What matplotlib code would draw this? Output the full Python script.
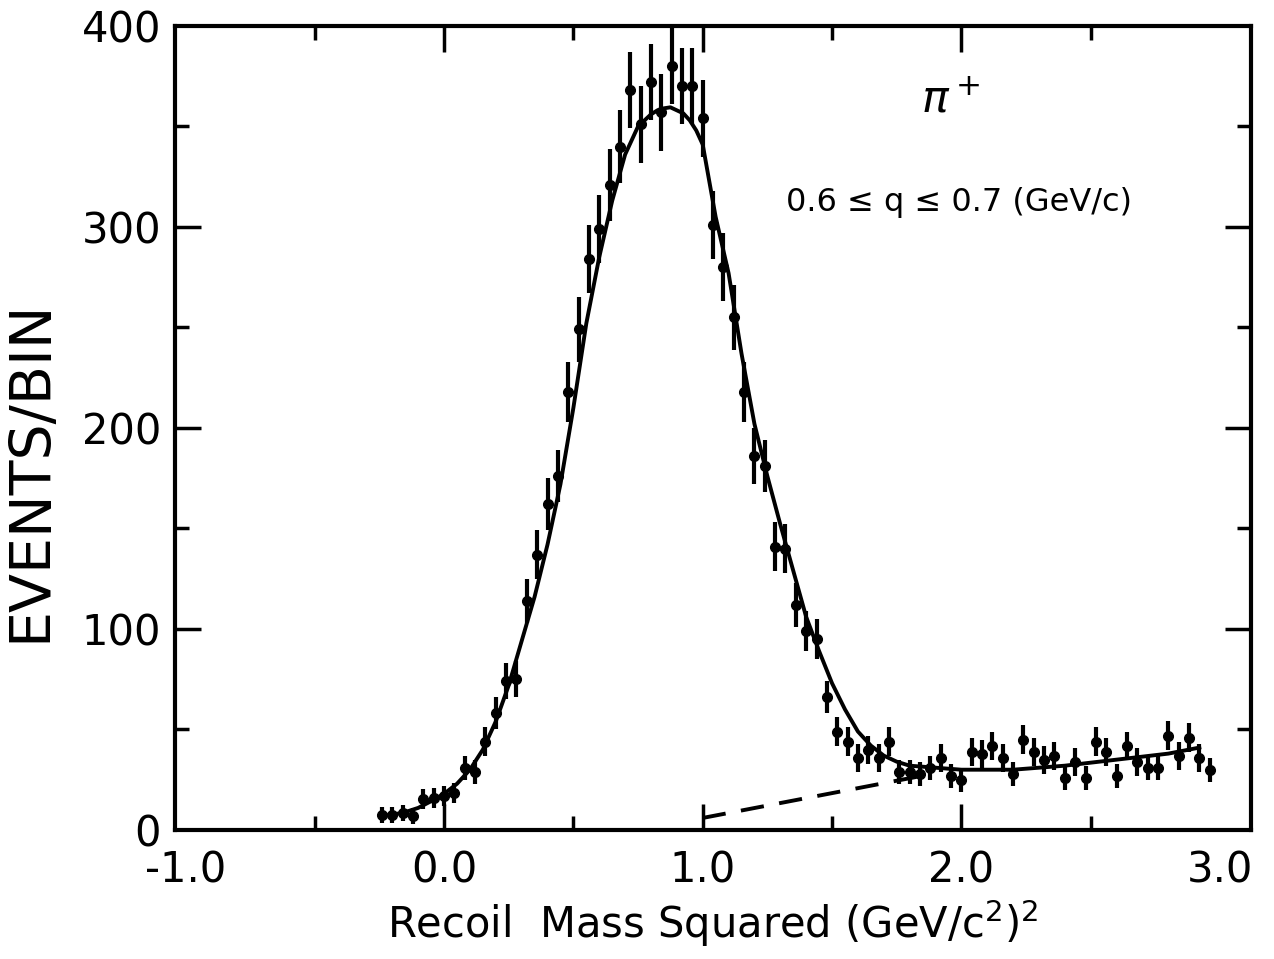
import matplotlib
matplotlib.use("Agg")
import matplotlib.pyplot as plt
from matplotlib.ticker import MultipleLocator

# ---- data ----
bin_x = [-0.24, -0.20, -0.16, -0.12, -0.08, -0.04, 0.00, 0.04, 0.08, 0.12,
         0.16, 0.20, 0.24, 0.28, 0.32, 0.36, 0.40, 0.44, 0.48, 0.52,
         0.56, 0.60, 0.64, 0.68, 0.72, 0.76, 0.80, 0.84, 0.88, 0.92,
         0.96, 1.00, 1.04, 1.08, 1.12, 1.16, 1.20, 1.24, 1.28, 1.32,
         1.36, 1.40, 1.44, 1.48, 1.52, 1.56, 1.60, 1.64, 1.68, 1.72,
         1.76, 1.80, 1.84, 1.88, 1.92, 1.96, 2.00, 2.04, 2.08, 2.12,
         2.16, 2.20, 2.24, 2.28, 2.32, 2.36, 2.40, 2.44, 2.48, 2.52,
         2.56, 2.60, 2.64, 2.68, 2.72, 2.76, 2.80, 2.84, 2.88, 2.92, 2.96]
events = [7.5, 7.5, 8.5, 7, 15.5, 16, 17, 18.5, 31, 29,
          44, 58, 74, 75, 114, 137, 162, 176, 218, 249,
          284, 299, 321, 340, 368, 351, 372, 357, 380, 370,
          370, 354, 301, 280, 255, 218, 186, 181, 141, 140,
          112, 99, 95, 66, 49, 44, 36, 40, 36, 44,
          29, 29, 28, 31, 36, 27, 25, 39, 38, 42,
          36, 28, 45, 39, 35, 37, 26, 34, 26, 44,
          39, 27, 42, 34, 31, 31, 47, 37, 46, 36, 30]
errors = [4, 4, 4, 4, 5, 5, 5, 5, 6, 6,
          7, 8, 9, 9, 11, 12, 13, 13, 15, 16,
          17, 17, 18, 18, 19, 19, 19, 19, 19, 19,
          19, 19, 17, 17, 16, 15, 14, 13, 12, 12,
          11, 10, 10, 8, 7, 7, 7, 7, 7, 7,
          6, 6, 6, 6, 7, 6, 6, 7, 7, 7,
          7, 6, 7, 7, 7, 7, 6, 7, 6, 7,
          7, 6, 7, 7, 6, 6, 7, 7, 7, 7, 6]

fit_x = [-0.24, -0.16, -0.10, -0.04, 0.00, 0.05, 0.10, 0.15, 0.20, 0.25,
         0.30, 0.35, 0.40, 0.45, 0.50, 0.55, 0.60, 0.65, 0.70, 0.75,
         0.80, 0.825, 0.85, 0.875, 0.90, 0.925, 0.95, 0.975, 1.00, 1.05,
         1.10, 1.15, 1.20, 1.25, 1.30, 1.35, 1.40, 1.45, 1.50, 1.55,
         1.60, 1.65, 1.70, 1.75, 1.80, 1.90, 2.00, 2.20, 2.40, 2.60,
         2.80, 2.92]
fit_y = [7, 8.5, 11, 15, 18, 23, 30, 40, 54, 72,
         94, 116, 142, 172, 210, 252, 285, 313, 336, 350,
         356, 358, 359, 359.5, 358, 356.5, 353, 348, 341, 305,
         277, 237, 202, 176, 152, 129, 106, 89, 73, 60,
         49, 42, 37, 34, 32, 31, 30, 30, 32, 35,
         38, 41]

bg_x = [1.00, 1.85]
bg_y = [6, 27]

x_ticks = [-1.0, 0.0, 1.0, 2.0, 3.0]
x_ticklabels = ["-1.0", "0.0", "1.0", "2.0", "3.0"]
y_ticks = [0, 100, 200, 300, 400]
y_ticklabels = ["0", "100", "200", "300", "400"]

# ---- figure ----
fig = plt.figure(figsize=(12.74, 9.59), dpi=100)
ax = fig.add_axes([0.1374, 0.1345, 0.8446, 0.8385])

ax.errorbar(bin_x, events, yerr=errors, fmt='o', color='black',
            markersize=7, elinewidth=3, capsize=0, zorder=3)
ax.plot(fit_x, fit_y, color='black', lw=2.8, zorder=2)
ax.plot(bg_x, bg_y, color='black', lw=2.8, linestyle=(0, (6, 4)), zorder=2)

ax.set_xlim(-1.04, 3.12)
ax.set_ylim(0, 400)
ax.set_xticks(x_ticks, x_ticklabels)
ax.set_yticks(y_ticks, y_ticklabels)
ax.xaxis.set_minor_locator(MultipleLocator(0.5))
ax.yaxis.set_minor_locator(MultipleLocator(50))
ax.tick_params(which='both', direction='in', top=True, right=True,
               width=2.5, colors='black')
ax.tick_params(which='major', length=19, labelsize=30)
ax.tick_params(axis='x', which='major', pad=14)
ax.tick_params(axis='y', which='major', pad=10)
ax.tick_params(which='minor', length=10)
for t in ax.xaxis.get_major_ticks():
    if t.get_loc() in (-1.0, 3.0):
        t.tick1line.set_visible(False)
        t.tick2line.set_visible(False)
for t in ax.yaxis.get_major_ticks():
    if t.get_loc() in (0, 400):
        t.tick1line.set_visible(False)
        t.tick2line.set_visible(False)
for s in ax.spines.values():
    s.set_linewidth(3)

ax.set_xlabel(r"Recoil  Mass Squared (GeV/c$^2$)$^2$", fontsize=30, labelpad=4)
ax.set_ylabel("EVENTS/BIN", fontsize=41)
ax.yaxis.set_label_coords(-0.108, 0.447)

ax.text(1.96, 363, r"$\pi^+$", fontsize=32, ha='center', va='center')
ax.text(1.99, 312, "0.6 ≤ q ≤ 0.7 (GeV/c)", fontsize=23, ha='center', va='center')

fig.savefig("out.png", dpi=100)
